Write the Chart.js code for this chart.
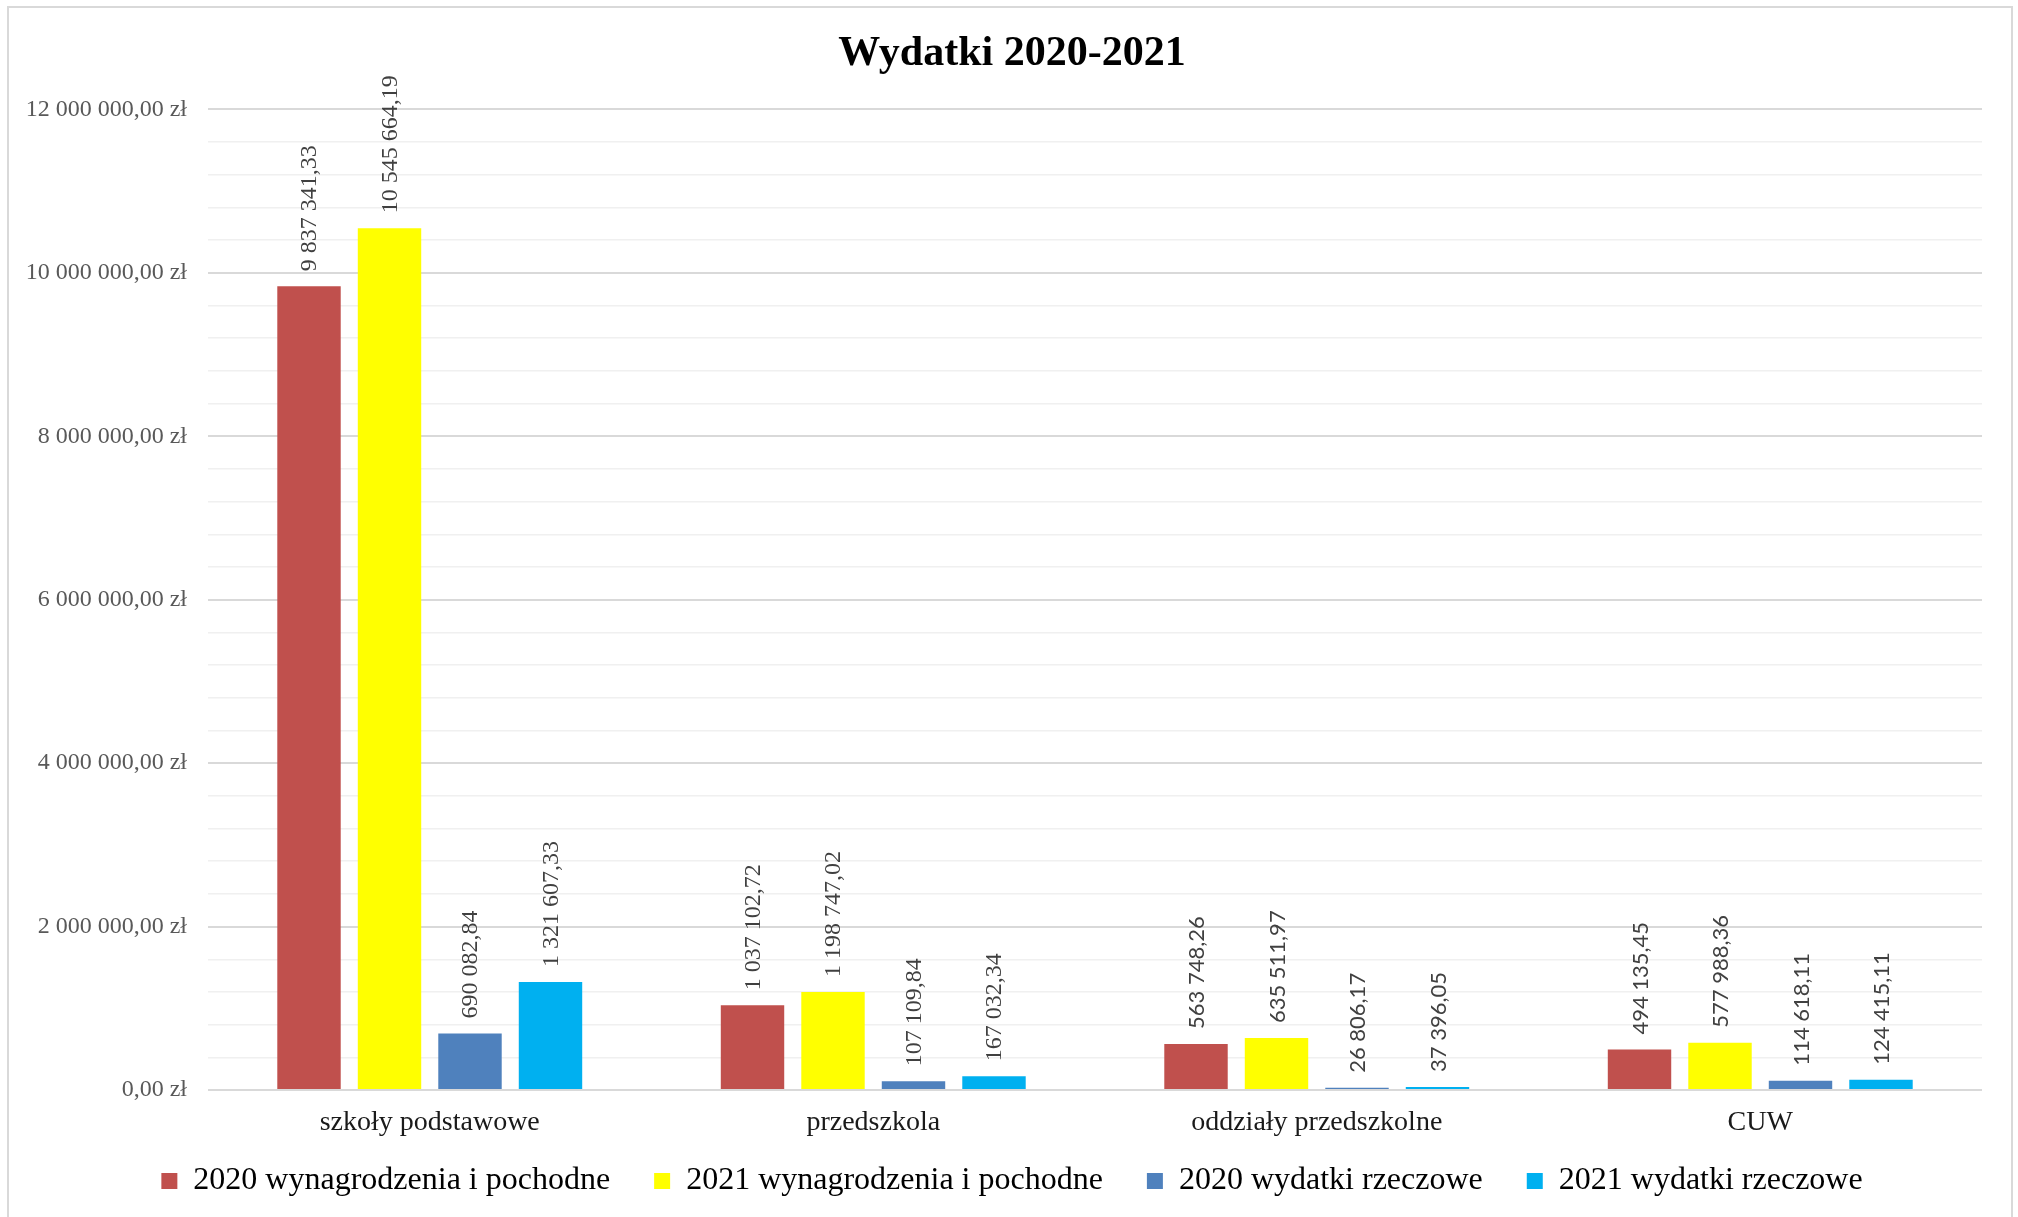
<!DOCTYPE html>
<html lang="pl">
<head>
<meta charset="utf-8">
<title>Wydatki 2020-2021</title>
<script src="https://cdn.jsdelivr.net/npm/chart.js@4.4.1/dist/chart.umd.min.js"></script>
<style>
  html, body { margin: 0; padding: 0; background: #fff; }
  #wrap { width: 2018px; height: 1217px; }
</style>
</head>
<body>
<div id="wrap"><canvas id="myChart" width="2018" height="1217"></canvas></div>
<script>
// data
const categories = ["szkoły podstawowe", "przedszkola", "oddziały przedszkolne", "CUW"];
const seriesNames = [
    "2020 wynagrodzenia i pochodne",
    "2021 wynagrodzenia i pochodne",
    "2020 wydatki rzeczowe",
    "2021 wydatki rzeczowe"
];
const wyn2020 = [9837341.33, 1037102.72, 563748.26, 494135.45];
const wyn2021 = [10545664.19, 1198747.02, 635511.97, 577988.36];
const rzecz2020 = [690082.84, 107109.84, 26806.17, 114618.11];
const rzecz2021 = [1321607.33, 167032.34, 37396.05, 124415.11];
const yMax = 12000000;
const yMajorStep = 2000000;
const yMinorStep = 400000;

const colors = ["#C0504D", "#FFFF00", "#4F81BD", "#00B0F0"];
const serif = "'Liberation Serif', 'Times New Roman', serif";
const sans = "Lato, 'Noto Sans', sans-serif";
const legendShift = -21;

// "9 837 341,33"
function plNumber(v) {
    const parts = v.toFixed(2).split(".");
    return parts[0].replace(/\B(?=(\d{3})+(?!\d))/g, " ") + "," + parts[1];
}

// white background and thin frame
const frame = {
    id: "frame",
    beforeDraw(chart) {
        const ctx = chart.ctx;
        ctx.save();
        ctx.fillStyle = "#fff";
        ctx.fillRect(0, 0, chart.width, chart.height);
        ctx.strokeStyle = "#d9d9d9";
        ctx.lineWidth = 2;
        ctx.strokeRect(8, 7, 2004, 1220);
        ctx.restore();
    }
};

// legend sits a bit closer to the axis labels than the box layout allows
const legendNudge = {
    id: "legendNudge",
    afterLayout(chart) {
        chart.legend.top += legendShift;
        chart.legend.bottom += legendShift;
    }
};

// rotated value labels above the bars
const valueLabels = {
    id: "valueLabels",
    afterDatasetsDraw(chart) {
        const ctx = chart.ctx;
        ctx.save();
        ctx.fillStyle = "#404040";
        ctx.textAlign = "left";
        ctx.textBaseline = "middle";
        chart.data.datasets.forEach((ds, di) => {
            const meta = chart.getDatasetMeta(di);
            meta.data.forEach((bar, i) => {
                // the last two groups use a sans face in the original
                ctx.font = i < 2 ? "24px " + serif : "22px " + sans;
                ctx.save();
                ctx.translate(bar.x, bar.y - 15);
                ctx.rotate(-Math.PI / 2);
                ctx.fillText(plNumber(ds.data[i]), 0, 1);
                ctx.restore();
            });
        });
        ctx.restore();
    }
};

const values = [wyn2020, wyn2021, rzecz2020, rzecz2021];
const ctx = document.getElementById("myChart").getContext("2d");
const myChart = new Chart(ctx, {
    type: "bar",
    data: {
        labels: categories,
        datasets: values.map((v, i) => ({
            label: seriesNames[i],
            data: v,
            backgroundColor: colors[i],
            borderWidth: 0,
            categoryPercentage: 0.726,
            barPercentage: 0.788
        }))
    },
    options: {
        responsive: false,
        animation: false,
        layout: { padding: { left: 20, right: 14, top: 0, bottom: -11 } },
        plugins: {
            title: {
                display: true,
                text: "Wydatki 2020-2021",
                color: "#000",
                font: { family: serif, size: 42, weight: "bold" },
                padding: { top: 29, bottom: 30 }
            },
            legend: {
                position: "bottom",
                labels: {
                    color: "#000",
                    font: { family: serif, size: 32 },
                    boxWidth: 16,
                    boxHeight: 16,
                    padding: 44
                }
            },
            tooltip: { enabled: false }
        },
        scales: {
            x: {
                grid: { display: false, drawTicks: false },
                border: { display: false },
                ticks: {
                    color: "#1a1a1a",
                    font: { family: serif, size: 28 },
                    padding: 16,
                    maxRotation: 0
                },
                afterFit(scale) { scale.height = 52; }
            },
            y: {
                min: 0,
                max: yMax,
                border: { display: false },
                grid: {
                    drawTicks: false,
                    color: c => (c.tick && c.tick.value % yMajorStep === 0) ? "#d9d9d9" : "#f0f0f0",
                    lineWidth: c => (c.tick && c.tick.value % yMajorStep === 0) ? 2 : 1.5
                },
                ticks: {
                    stepSize: yMinorStep,
                    maxTicksLimit: 31,
                    autoSkip: false,
                    padding: 21,
                    color: "#595959",
                    font: { family: serif, size: 24 },
                    callback: v => v % yMajorStep === 0 ? plNumber(v) + " zł" : ""
                },
                afterFit(scale) { scale.width = 188; }
            },
            // empty right-hand axis, only keeps the plot clear of the right edge
            yRight: {
                position: "right",
                grid: { display: false, drawTicks: false },
                border: { display: false },
                ticks: { display: false },
                afterFit(scale) { scale.width = 22; }
            }
        }
    },
    plugins: [frame, legendNudge, valueLabels]
});
</script>
</body>
</html>
